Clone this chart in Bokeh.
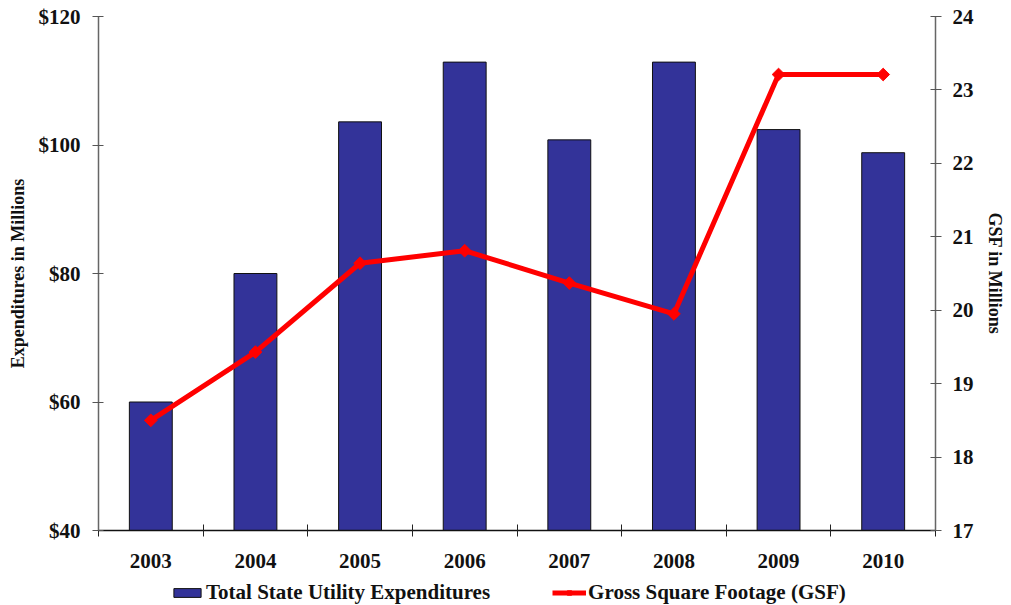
from bokeh.plotting import figure
from bokeh.layouts import column
from bokeh.models import (Range1d, LinearAxis, FixedTicker, NumeralTickFormatter,
                          Legend, LegendItem, ColumnDataSource)
from bokeh.embed import file_html
from bokeh.resources import INLINE
import math

years = ["2003", "2004", "2005", "2006", "2007", "2008", "2009", "2010"]
expenditures = [60.0, 80.0, 103.6, 112.9, 100.8, 112.9, 102.4, 98.8]
gsf = [18.50, 19.43, 20.64, 20.81, 20.37, 19.95, 23.21, 23.21]
left_ticks = [40, 60, 80, 100, 120]
right_ticks = [17, 18, 19, 20, 21, 22, 23, 24]
series_names = ["Total State Utility Expenditures", "Gross Square Footage (GSF)"]

FONT = "Liberation Serif"
BAR_FILL = "#333399"
BAR_LINE = "#111111"
RED = "#FF0000"

xpos = [i + 0.5 for i in range(len(years))]
src = ColumnDataSource(dict(x=xpos, year=years, exp=expenditures, gsf=gsf))

MAIN_H = 580
p = figure(frame_width=837, frame_height=514, output_backend="svg", toolbar_location=None,
           x_range=Range1d(0, len(years)), y_range=Range1d(40, 120),
           min_border_left=98, min_border_right=76, min_border_top=16,
           min_border_bottom=MAIN_H - 16 - 514)
p.extra_y_ranges = {"gsf": Range1d(17, 24)}
p.outline_line_color = None
p.xgrid.visible = False
p.ygrid.visible = False
p.background_fill_color = "white"
p.border_fill_color = "white"

bars = p.vbar(x="x", top="exp", bottom=40, width=0.41, source=src,
              fill_color=BAR_FILL, line_color=BAR_LINE, line_width=1)
line = p.line(x="x", y="gsf", source=src, y_range_name="gsf",
              line_color=RED, line_width=5)
pts = p.scatter(x="x", y="gsf", source=src, y_range_name="gsf", marker="square",
                size=9, angle=math.pi / 4, fill_color=RED, line_color=RED, line_width=1)

# x axis
xa = p.xaxis[0]
xa.axis_label = None
xa.ticker = FixedTicker(ticks=xpos, minor_ticks=list(range(0, len(years) + 1)))
xa.major_label_overrides = {x: y for x, y in zip(xpos, years)}
xa.major_tick_line_color = None
xa.major_tick_out = 6
xa.major_tick_in = 0
xa.minor_tick_line_color = "#222222"
xa.minor_tick_out = 6
xa.minor_tick_in = 6
xa.axis_line_color = "#111111"
xa.axis_line_width = 1.5
xa.major_label_standoff = 17
xa.major_label_text_font = FONT
xa.major_label_text_font_style = "bold"
xa.major_label_text_font_size = "21px"
xa.major_label_text_color = "#111111"

# left axis
ya = p.yaxis[0]
ya.ticker = FixedTicker(ticks=left_ticks)
ya.formatter = NumeralTickFormatter(format="$0")
ya.axis_label = "Expenditures in Millions"

# right axis
ra = LinearAxis(y_range_name="gsf", ticker=FixedTicker(ticks=right_ticks),
                axis_label="GSF in Millions")
p.add_layout(ra, "right")

for ax, standoff in ((ya, 12), (ra, 11)):
    ax.axis_line_color = "#666666"
    ax.axis_line_width = 1.5
    ax.major_tick_line_color = "#555555"
    ax.major_tick_in = 5
    ax.major_tick_out = 6
    ax.minor_tick_line_color = None
    ax.major_label_standoff = standoff
    ax.major_label_text_font = FONT
    ax.major_label_text_font_style = "bold"
    ax.major_label_text_font_size = "21px"
    ax.major_label_text_color = "#111111"
    ax.axis_label_text_font = FONT
    ax.axis_label_text_font_style = "bold"
    ax.axis_label_text_font_size = "18px"
    ax.axis_label_text_color = "#111111"
    ax.axis_label_standoff = 8

# legend strip below the chart (series drawn out of its view; only the key shows)
lg = figure(width=1011, height=605 - MAIN_H, output_backend="svg", toolbar_location=None,
            x_axis_location=None, y_axis_location=None, min_border=0,
            x_range=Range1d(0, len(years)), y_range=Range1d(1000, 1001))
lg.outline_line_color = None
lg.xgrid.visible = False
lg.ygrid.visible = False
lg.background_fill_color = "white"
lg.border_fill_color = "white"
lb = lg.vbar(x="x", top="exp", bottom=40, width=0.41, source=src,
             fill_color=BAR_FILL, line_color=BAR_LINE, line_width=1)
ll = lg.line(x="x", y="gsf", source=src, line_color=RED, line_width=5)
lp = lg.scatter(x="x", y="gsf", source=src, marker="square", size=10, angle=math.pi / 4,
                fill_color=RED, line_color=RED, line_width=1)

legend = Legend(items=[
    LegendItem(label=series_names[0], renderers=[lb]),
    LegendItem(label=series_names[1], renderers=[ll, lp]),
], orientation="horizontal", location=(72, 0))
legend.border_line_color = None
legend.background_fill_alpha = 0
legend.label_text_font = FONT
legend.label_text_font_style = "bold"
legend.label_text_font_size = "21px"
legend.label_text_color = "#111111"
legend.glyph_width = 34
legend.glyph_height = 11
legend.label_standoff = 2
legend.spacing = 62
legend.padding = 0
legend.margin = 0
lg.add_layout(legend, "center")

layout = column(p, lg, spacing=0)
open("out.html", "w").write(file_html(layout, INLINE))
